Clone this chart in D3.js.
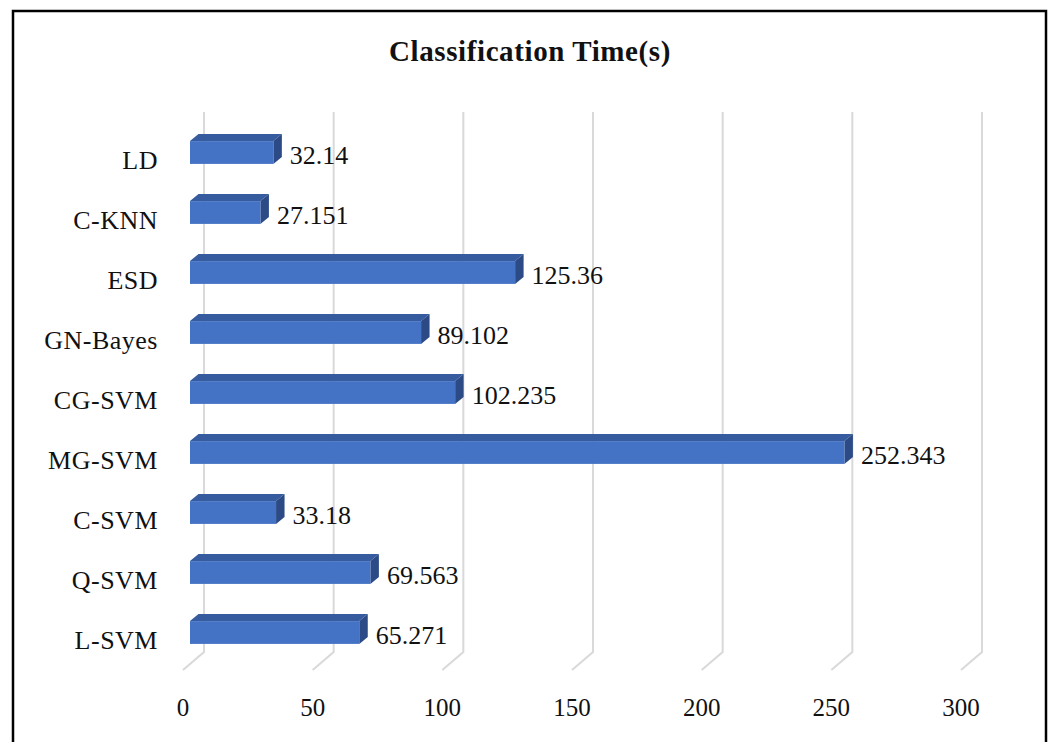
<!DOCTYPE html>
<html>
<head>
<meta charset="utf-8">
<script src="https://cdn.jsdelivr.net/npm/d3@7"></script>
<style>
  body { margin: 0; background: #fff; }
  text { font-family: "Liberation Serif", "Times New Roman", serif; fill: #111; }
</style>
</head>
<body>
<svg id="chart"></svg>
<script>
// chart values, top row first
const categories = ['LD', 'C-KNN', 'ESD', 'GN-Bayes', 'CG-SVM', 'MG-SVM', 'C-SVM', 'Q-SVM', 'L-SVM'];
const times = [32.14, 27.151, 125.36, 89.102, 102.235, 252.343, 33.18, 69.563, 65.271];
const timeLabels = ['32.14', '27.151', '125.36', '89.102', '102.235', '252.343', '33.18', '69.563', '65.271'];
const ticks = [0, 50, 100, 150, 200, 250, 300];
const title = 'Classification Time(s)';

class Bar3D {

  constructor(_config) {
    this.config = {
      parentElement: _config.parentElement,
      containerWidth: _config.containerWidth || 1052,
      containerHeight: _config.containerHeight || 742
    };
    this.initVis();
  }

  initVis() {
    let vis = this;

    vis.svg = d3.select(vis.config.parentElement)
        .attr('width', vis.config.containerWidth)
        .attr('height', vis.config.containerHeight);

    // outer frame (bottom edge is off the picture)
    vis.svg.append('rect')
        .attr('x', 13).attr('y', 11)
        .attr('width', 1033).attr('height', 760)
        .attr('fill', 'none')
        .attr('stroke', '#000')
        .attr('stroke-width', 2.5);

    vis.svg.append('text')
        .attr('x', 530).attr('y', 61)
        .attr('text-anchor', 'middle')
        .attr('font-size', 29)
        .attr('font-weight', 'bold')
        .attr('letter-spacing', 0.6)
        .text(title);

    // back wall scale, the bars sit a little in front of it
    vis.xBack = d3.scaleLinear().domain([0, 300]).range([204, 982]);
    vis.xScale = d3.scaleLinear().domain([0, 300]).range([190, 968]);
    vis.yScale = d3.scaleBand()
        .domain(categories)
        .range([122.5, 662.5])
        .paddingInner(0.62)
        .paddingOuter(0.31);

    vis.depth = {dx: 8.5, dy: 7};
    vis.floor = {top: 112, bottom: 652, dx: -21, dy: 18};

    vis.renderVis();
  }

  renderVis() {
    let vis = this;
    const f = vis.floor;

    // gridlines: up the back wall, then out across the floor
    vis.svg.append('g').selectAll('path')
        .data(ticks)
        .join('path')
        .attr('d', d => {
          const x = vis.xBack(d);
          return `M${x},${f.top}L${x},${f.bottom}L${x + f.dx},${f.bottom + f.dy}`;
        })
        .attr('fill', 'none')
        .attr('stroke', '#d9d9d9')
        .attr('stroke-width', 2);

    vis.svg.append('g').selectAll('text')
        .data(ticks)
        .join('text')
        .attr('x', d => vis.xBack(d) + f.dx)
        .attr('y', 716)
        .attr('text-anchor', 'middle')
        .attr('font-size', 25)
        .text(d => d);

    const rows = categories.map((c, i) => ({key: c, value: times[i], label: timeLabels[i]}));
    const h = vis.yScale.bandwidth();
    const {dx, dy} = vis.depth;

    const bars = vis.svg.append('g').selectAll('g')
        .data(rows)
        .join('g');

    // top face
    bars.append('path')
        .attr('d', d => {
          const x0 = vis.xScale(0), x1 = vis.xScale(d.value), y = vis.yScale(d.key);
          return `M${x0},${y}L${x0 + dx},${y - dy}L${x1 + dx},${y - dy}L${x1},${y}Z`;
        })
        .attr('fill', '#365b9e');

    // side face
    bars.append('path')
        .attr('d', d => {
          const x1 = vis.xScale(d.value), y = vis.yScale(d.key);
          return `M${x1},${y}L${x1 + dx},${y - dy}L${x1 + dx},${y + h - dy}L${x1},${y + h}Z`;
        })
        .attr('fill', '#2c4b86');

    // front face
    bars.append('rect')
        .attr('x', vis.xScale(0))
        .attr('y', d => vis.yScale(d.key))
        .attr('width', d => vis.xScale(d.value) - vis.xScale(0))
        .attr('height', h)
        .attr('fill', '#4472c4');

    // value labels
    bars.append('text')
        .attr('x', d => vis.xScale(d.value) + dx + 8)
        .attr('y', d => vis.yScale(d.key) + h / 2 + 11)
        .attr('font-size', 26)
        .text(d => d.label);

    // category labels
    vis.svg.append('g').selectAll('text')
        .data(categories)
        .join('text')
        .attr('x', 158)
        .attr('y', d => vis.yScale(d) + h / 2 + 16)
        .attr('text-anchor', 'end')
        .attr('font-size', 26)
        .attr('letter-spacing', 0.5)
        .text(d => d);
  }
}

new Bar3D({parentElement: '#chart'});
</script>
</body>
</html>
